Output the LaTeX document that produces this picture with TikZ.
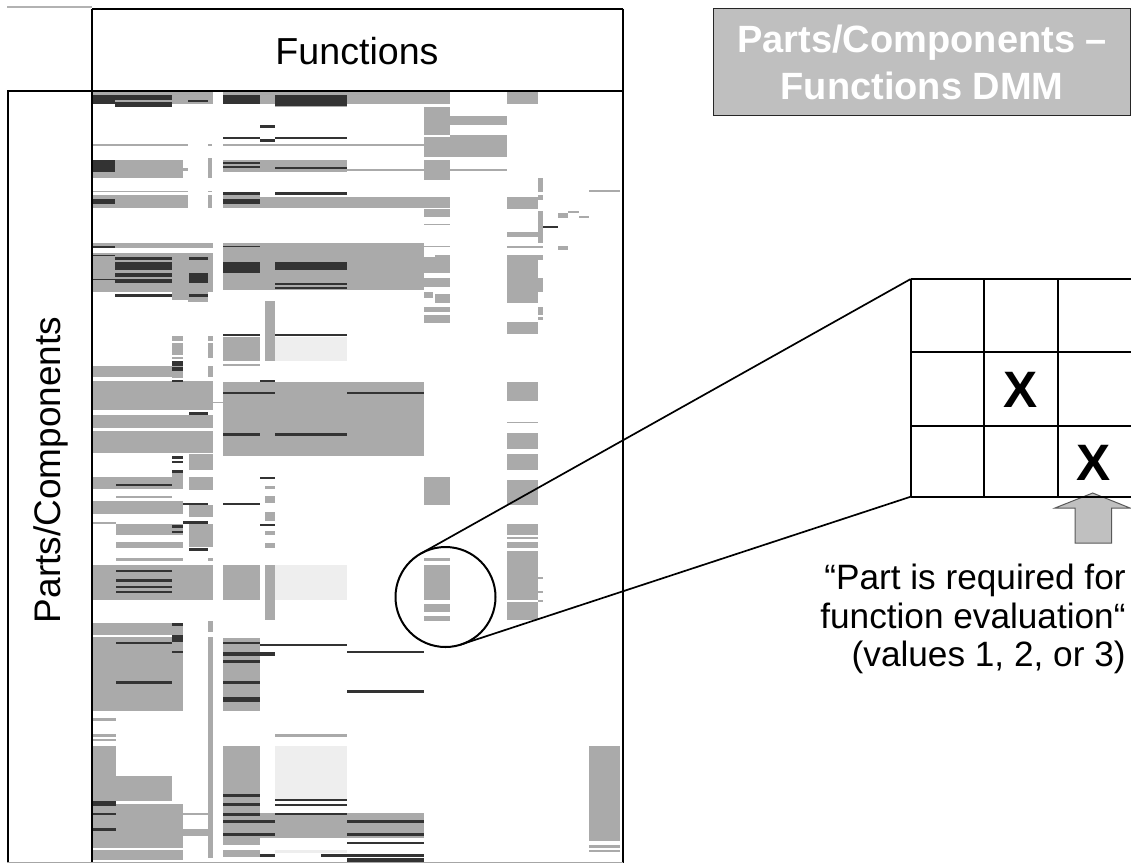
\documentclass[tikz,border=0pt]{standalone}
\usepackage{fontspec}
\setmainfont{Liberation Sans}
\definecolor{cellgray}{HTML}{AAAAAA}
\definecolor{celldark}{HTML}{333333}
\definecolor{celllight}{HTML}{EEEEEE}
\definecolor{titlegray}{HTML}{BFBFBF}
\definecolor{arrowgray}{HTML}{C0C0C0}
\tikzset{
  cg/.style={fill=cellgray},
  cd/.style={fill=celldark},
  cl/.style={fill=celllight},
  frame/.style={line width=1pt, draw=black},
  gridline/.style={line width=1pt, draw=black},
  zoomline/.style={line width=0.85pt, draw=black},
}
\begin{document}
\begin{tikzpicture}[x=0.5pt,y=-0.5pt]
\useasboundingbox (0,0) rectangle (1131,864);
% ---------- matrix: gray cells ----------
\foreach \a/\b/\c/\d in {
92/92/213/104, 223/92/450/104, 275/104/347/107, 507/92/538/104,
424/107/450/135, 450/116/507/125, 424/137/450/157, 450/135/507/157,
424/160/450/180, 92/144/188/146, 208/144/212/146, 223/144/424/146,
347/169/507/171, 115/160/183/178, 92/172/115/178, 183/168/188/171,
208/158/212/178, 223/160/347/172, 92/190.5/188/192, 208/190.5/212/192,
92/195/188/208, 208/195/212/208, 223/194.5/260/197, 223/197/450/208,
424/209/450/217, 424/223.5/450/225, 507/197/538/209, 538/178/543/192,
538/195/543/200, 589/190/620/192, 538/211/543/243, 558/213/568/218,
568/211/579/213, 579/216/589/218, 507/232/538/237, 507/246/543/247.5,
558/246/568/249.5,
92/243.3/212.6/248.3, 92/252.7/212.6/291.7, 172/291.7/208/300, 188/300/208/301.5,
223/243.3/424/290, 424/246/450/247.3, 434.7/255/450/273.3, 424/257/434.7/273.3,
424/278/450/287, 424/291.7/433/298.3, 434.7/294/450/303.3, 424/306.7/450/311.7,
424/315/450/323.3, 507/255/538/303.3, 538/255/543/260, 538/278.3/543/291.7,
538/306.7/543/315, 538/317.3/543/320, 507/321.7/538/334,
265/300.7/275/360.7, 223/337.3/260/360.7, 223/364.3/260/366,
172/336/183/340.7, 172/343.3/183/355, 172/356.7/183/359, 172/371.7/183/378.3,
208/336/212.6/340.7, 208/343.3/212.6/358.3, 208/366/212.6/376.7, 92/366/183/376.7,
92/380.7/212.6/410, 212.6/401.8/223/402.8, 92/415/212.6/428.3, 92/431/212.6/452.7,
223/381.7/424/456, 507/381.7/538/400.7, 507/421.8/538/422.8, 507/432.7/538/449.3,
507/454/538/470, 507/480/538/505, 507/524/538/530, 424/476.7/450/505,
172/473.3/183/480, 188.5/454/212.6/470, 188.5/476.7/212.6/490, 92/476.7/183/489.3,
116/496/172/498.3, 92/500.7/183/514.3, 188.5/505/212.6/517.3, 265/486/275/489.3,
265/496/275/502.7, 265/511.7/275/521, 92/521.7/116/524, 116/524/183/535,
188.5/524/212.6/546.7, 116/541.7/183/548.3, 116/558.3/183/560.7, 208/558.3/212.6/560.7,
265/530.7/275/535, 265/543.3/275/548.3, 92/565/212.6/600, 223/565/260/600,
265/565/275/620, 424/558.3/450/560.7, 424/565/450/600, 424/604.3/450/611.7,
424/616/450/620.7, 507/524/538/535, 507/537.3/538/539.3, 507/542.3/538/548.3,
507/551/538/600, 507/601.7/538/620, 538/577/543/578.5, 538/591/543/592.5,
538/600/543/601.5,
92/622.7/183/635, 92/636.7/183/710.7, 208/621/212.6/631.7, 208/636.7/212.6/858,
223/638.3/260/710.7, 92/718.3/116/720.7, 92/734/116/736.7, 92/739/116/741,
92/746/116/806.7, 116/776/172/800.7, 92/804/183/848.3, 92/850/183/860,
183/813.3/208/815, 183/829.3/208/836, 223/746/260/813.3, 223/813.3/424/838.3,
223/838.3/260/845, 223/850/260/856.7, 275/734/347/736.7, 589/746/620/840.7,
589/845/620/848.3, 589/850/620/851.7}
  \fill[cg] (\a,\b) rectangle (\c,\d);
% ---------- matrix: light cells ----------
\foreach \a/\b/\c/\d in {275/337.3/347/360.7, 275/565/347/600, 275/746/347/799.3, 275/850/347/853.3}
  \fill[cl] (\a,\b) rectangle (\c,\d);
% ---------- matrix: dark cells ----------
\foreach \a/\b/\c/\d in {
93/95/115/104, 115/95/172/100, 115/102/172/107, 188/99.5/208/101.5,
223/95/260/104, 275/95/347/106, 260/125/275/128, 223/137/260/138.5,
275/137/347/138.5, 260/139/275/142, 92/160/115/172, 223/162/260/164,
223/166/260/168, 275/167/347/169, 92/199/115/204, 223/192/260/194.5,
275/192/347/194.5, 223/199/260/204, 543/226/558/228, 92/246/115/247.5,
92/254.5/115/255.5, 115/256.7/172/260, 115/261.7/172/270, 115/273.3/172/276.7,
115/279.3/172/282.7, 92/278.8/115/279.8, 188.5/256.7/208/260, 188.5/273.3/208/282.7,
115/294.3/172/296.7, 188.5/294/208/296.7, 223/245.7/260/247.3, 223/261.7/260/273.3,
275/261.7/347/270, 275/282.7/347/285, 275/286.7/347/289.3, 223/334/260/336,
275/334/347/336, 172/361/183/366, 172/367.3/183/371, 172/380/183/381.7,
188.5/411.7/208/415, 260/380/275/381.7, 223/391.7/275/394, 347/391.7/424/394,
223/432.7/260/436, 275/432.7/347/436, 172/456/183/459.3, 172/460.7/183/463.3,
172/470/183/472.7, 116/484/172/486, 183/502.7/208/505, 223/502.7/260/505,
260/476.7/275/479.3, 260/524/275/526, 183/521/208/524, 172/525/183/528,
172/530.7/183/532.7, 188.5/548.3/208/550.7, 116/570/172/571.7, 116/579.3/172/581.7,
116/585.7/172/587.7, 116/590.7/172/592.7, 172/622.7/183/626, 172/635/183/641.7,
172/651/183/652.7, 116/641.7/172/644, 116/681/172/684, 223/641.7/260/644,
223/651.7/275/656, 223/660/260/663.3, 223/681/260/684, 223/697.3/260/702.3,
260/644/347/646, 347/651/424/653, 347/690/424/692.7, 92/801/116/806,
92/812.7/116/815, 92/828.3/116/830.7, 223/794/260/796.7, 223/803.3/260/806,
223/813.3/260/816, 223/820/275/822.7, 347/820/424/822.7, 223/833.3/275/836,
347/833.3/424/836, 347/841.7/424/844.3, 275/799.3/347/801, 275/804/347/806,
275/813.3/347/815, 260/854.3/275/856.7, 321/854.3/424/856.7, 347/858.3/424/861.7}
  \fill[cd] (\a,\b) rectangle (\c,\d);
% ---------- frame ----------
\draw[gray!60, line width=0.6pt] (7,7) -- (92,7);
\draw[frame] (92,8.5) -- (622.7,8.5);
\draw[frame] (7,91) -- (622.7,91);
\draw[frame] (92,8.5) -- (92,862.5);
\draw[frame] (8,91) -- (8,862.5);
\draw[line width=1.1pt] (622.7,8.5) -- (622.7,862.5);
\draw[gray!70, line width=0.6pt] (7,862.5) -- (622.7,862.5);
\node[font=\fontsize{18.8}{22}\selectfont, anchor=base] (func) at (357,64) {Functions};
\node[font=\fontsize{18.5}{22}\selectfont, rotate=90] (parts) at (51,470) {Parts/Components};
% ---------- title ----------
\node[draw=black!85, line width=0.6pt, fill=titlegray, anchor=north west, inner sep=0,
      minimum width=208.5pt, minimum height=53.5pt, text=white, align=center,
      font=\fontsize{19}{23.5}\selectfont\bfseries] (title) at (713,8) {Parts/Components –\\Functions DMM};
% ---------- zoom circle ----------
\node[circle, draw=black, line width=1pt, minimum size=50pt, inner sep=0] (zoomc) at (445.5,597) {};
% ---------- arrow ----------
\draw[fill=arrowgray, draw=gray!70!black, line width=0.5pt]
  (1092.7,493) -- (1130,508) -- (1111.7,508) -- (1111.7,543) -- (1075,543) -- (1075,508) -- (1055,508) -- cycle;
% ---------- grid ----------
\coordinate (gnw) at (910.7,279);
\coordinate (gsw) at (910.7,496.7);
\coordinate (t1) at (421.1,553.4);
\coordinate (t2) at (461,644.5);
\foreach \y in {279,352.3,425.7,496.7} \draw[gridline] (910.7,\y) -- (1131,\y);
\foreach \x in {910.7,984,1057.7} \draw[gridline] (\x,279) -- (\x,496.7);
\draw[zoomline] (t1) -- (gnw);
\draw[zoomline] (t2) -- (gsw);
\node[font=\fontsize{25.6}{28}\selectfont\bfseries, inner sep=0] (x1) at (1020.5,390) {X};
\node[font=\fontsize{25.6}{28}\selectfont\bfseries, inner sep=0] (x2) at (1094,463) {X};
% ---------- note ----------
\node[anchor=north east, align=right, inner sep=0, font=\fontsize{17.6}{19.2}\selectfont] (note) at (1126,564)
  {“Part is required for\\function evaluation“\\(values 1, 2, or 3)};
\end{tikzpicture}
\end{document}
